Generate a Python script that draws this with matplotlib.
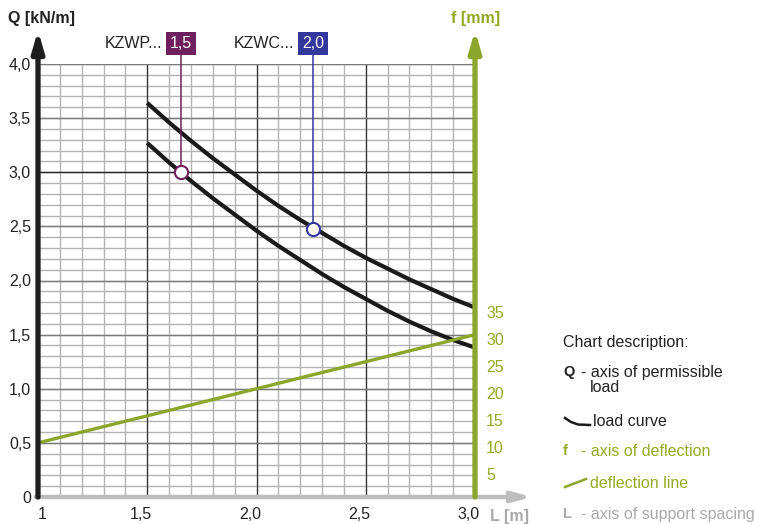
import numpy as np
import matplotlib.pyplot as plt
import matplotlib.transforms as mtransforms

plt.rcParams['font.family'] = ['Liberation Sans', 'DejaVu Sans']

# load curves, Q [kN/m] against support spacing L [m]
L_pts = [1.5, 1.6, 1.7, 1.8, 1.9, 2.0, 2.1, 2.2, 2.3, 2.4, 2.5, 2.6, 2.7, 2.8, 2.9, 3.0]
Q_kzwc = [3.64, 3.46, 3.29, 3.13, 2.98, 2.83, 2.69, 2.56, 2.44, 2.32, 2.21, 2.11, 2.01, 1.92, 1.83, 1.75]
Q_kzwp = [3.27, 3.09, 2.92, 2.76, 2.61, 2.46, 2.32, 2.19, 2.06, 1.94, 1.83, 1.72, 1.62, 1.53, 1.45, 1.38]

# deflection line (in Q units of the left axis), f = 20 * Q
L_defl = [1.0, 3.0]
Q_defl = [0.5, 1.5]

# marked points
mark_L = [1.655, 2.258]
mark_Q = [3.0, 2.476]
mark_prefix = ['KZWP...', 'KZWC...']
mark_value = ['1,5', '2,0']
mark_color = ['#6e1f5d', '#34379b']

x_ticks = [1.0, 1.5, 2.0, 2.5, 3.0]
x_labels = ['1', '1,5', '2,0', '2,5', '3,0']
y_ticks = [0, 0.5, 1.0, 1.5, 2.0, 2.5, 3.0, 3.5, 4.0]
y_labels = ['0', '0,5', '1,0', '1,5', '2,0', '2,5', '3,0', '3,5', '4,0']
f_ticks = [5, 10, 15, 20, 25, 30, 35]

green = '#8ba62b'
gtext = '#93ab22'
grey = '#a9a9a9'
dark = '#222222'
fs = 11.5

fig = plt.figure(figsize=(7.57, 5.24), dpi=100)
ax = fig.add_axes([38 / 757, 27 / 524, 437 / 757, 433 / 524])
ax.set_xlim(1, 3)
ax.set_ylim(0, 4)
for s in ax.spines.values():
    s.set_visible(False)

# grid
for x in np.arange(1.1, 3.0, 0.1):
    ax.axvline(x, color='#b3b3b3', lw=1.0, zorder=1)
for x in [1.5, 2.0, 2.5]:
    ax.axvline(x, color='#333333', lw=0.9, zorder=1.5)
for y in np.arange(0.1, 4.01, 0.1):
    ax.axhline(y, color='#b3b3b3', lw=1.0, zorder=1)
for y in [0.5, 1.0, 1.5, 2.0, 2.5, 3.5, 4.0]:
    ax.axhline(y, color='#7a7a7a', lw=1.0, zorder=1.5)
ax.axhline(3.0, color='#222222', lw=1.0, zorder=1.5)

# curves
for q in (Q_kzwc, Q_kzwp):
    ax.plot(L_pts, q, color='#1a1a1a', lw=3.0, zorder=4,
            solid_capstyle='butt', solid_joinstyle='round')
ax.plot(L_defl, Q_defl, color=green, lw=2.4, zorder=4, solid_capstyle='butt')

# markers with leader lines and value boxes
for lx, qy, pre, val, c in zip(mark_L, mark_Q, mark_prefix, mark_value, mark_color):
    ax.plot([lx, lx], [qy, 4.09], color=c, lw=1.1, zorder=5, clip_on=False)
    ax.plot(lx, qy, 'o', ms=9.5, mfc='white', mec=c, mew=1.5, zorder=6)
    ax.text(lx, 4.185, val, color='white', fontsize=fs, ha='center', va='center',
            bbox=dict(boxstyle='square,pad=0.25', fc=c, ec='none'), zorder=6, clip_on=False)
    ax.text(lx - 0.085, 4.185, pre, color=dark, fontsize=fs, ha='right', va='center', clip_on=False)

# axes with arrows
ax.annotate('', xy=(1.0, 4.31), xytext=(1.0, 0.0), annotation_clip=False,
            arrowprops=dict(arrowstyle='-|>,head_width=0.35,head_length=1.2', lw=3.8,
                            color='#1e1e1e', shrinkA=0, shrinkB=0), zorder=7)
ax.annotate('', xy=(3.0, 4.31), xytext=(3.0, 0.0), annotation_clip=False,
            arrowprops=dict(arrowstyle='-|>,head_width=0.35,head_length=1.2', lw=3.8,
                            color=green, shrinkA=0, shrinkB=0), zorder=7)
ax.annotate('', xy=(3.26, 0.0), xytext=(0.99, 0.0), annotation_clip=False,
            arrowprops=dict(arrowstyle='-|>,head_width=0.3,head_length=1.1', lw=3.2,
                            color='#bdbdbd', shrinkA=0, shrinkB=0), zorder=6)

# ticks
ax.set_xticks(x_ticks)
ax.set_xticklabels(x_labels, fontsize=fs, color=dark)
ax.set_yticks(y_ticks)
ax.set_yticklabels(y_labels, fontsize=fs, color=dark)
ax.tick_params(length=0, pad=7)
ax.tick_params(axis='y', pad=5)
shift = mtransforms.ScaledTranslation(-6 / 100, 0, fig.dpi_scale_trans)
for i, lab in enumerate(ax.get_xticklabels()):
    if i > 0:
        lab.set_transform(lab.get_transform() + shift)
    else:
        lab.set_transform(lab.get_transform() + mtransforms.ScaledTranslation(4 / 100, 0, fig.dpi_scale_trans))

ax2 = ax.twinx()
ax2.set_ylim(0, 80)
for s in ax2.spines.values():
    s.set_visible(False)
ax2.set_yticks(f_ticks)
ax2.set_yticklabels([str(v) for v in f_ticks], fontsize=fs, color=gtext)
ax2.tick_params(length=0, pad=8)
down = mtransforms.ScaledTranslation(0, -4 / 100, fig.dpi_scale_trans)
for lab in ax2.get_yticklabels():
    lab.set_transform(lab.get_transform() + down)

# axis titles
fig.text(8 / 757, 1 - 18 / 524, 'Q [kN/m]', fontsize=fs, fontweight='bold', color=dark, va='center')
fig.text(451 / 757, 1 - 18 / 524, 'f [mm]', fontsize=fs, fontweight='bold', color=gtext, va='center')
fig.text(490 / 757, 1 - 517 / 524, 'L [m]', fontsize=fs, fontweight='bold', color=grey, va='center')

# chart description
fig.text(563 / 757, 1 - 343 / 524, 'Chart description:', fontsize=fs, color=dark, va='center')
fig.text(563 / 757, 1 - 372 / 524, 'Q', fontsize=fs - 1, fontweight='bold', color=dark, va='center')
fig.text(581 / 757, 1 - 372 / 524, '- axis of permissible', fontsize=fs, color=dark, va='center')
fig.text(590 / 757, 1 - 388 / 524, 'load', fontsize=fs, color=dark, va='center')
leg_x = [565 / 757, 571 / 757, 578 / 757, 590 / 757]
leg_y = [1 - 418 / 524, 1 - 422 / 524, 1 - 424.5 / 524, 1 - 425 / 524]
fig.add_artist(plt.Line2D(leg_x, leg_y, color='#1a1a1a', lw=1.8))
fig.text(593 / 757, 1 - 421 / 524, 'load curve', fontsize=fs, color=dark, va='center')
fig.text(563 / 757, 1 - 451 / 524, 'f', fontsize=fs - 1, fontweight='bold', color=gtext, va='center')
fig.text(581 / 757, 1 - 451 / 524, '- axis of deflection', fontsize=fs, color=gtext, va='center')
fig.add_artist(plt.Line2D([565 / 757, 586 / 757], [1 - 487 / 524, 1 - 479 / 524], color=green, lw=1.8))
fig.text(590 / 757, 1 - 483 / 524, 'deflection line', fontsize=fs, color=gtext, va='center')
fig.text(563 / 757, 1 - 514 / 524, 'L', fontsize=fs - 1, fontweight='bold', color=grey, va='center')
fig.text(581 / 757, 1 - 514 / 524, '- axis of support spacing', fontsize=fs, color=grey, va='center')

fig.savefig('out.png', dpi=100)
